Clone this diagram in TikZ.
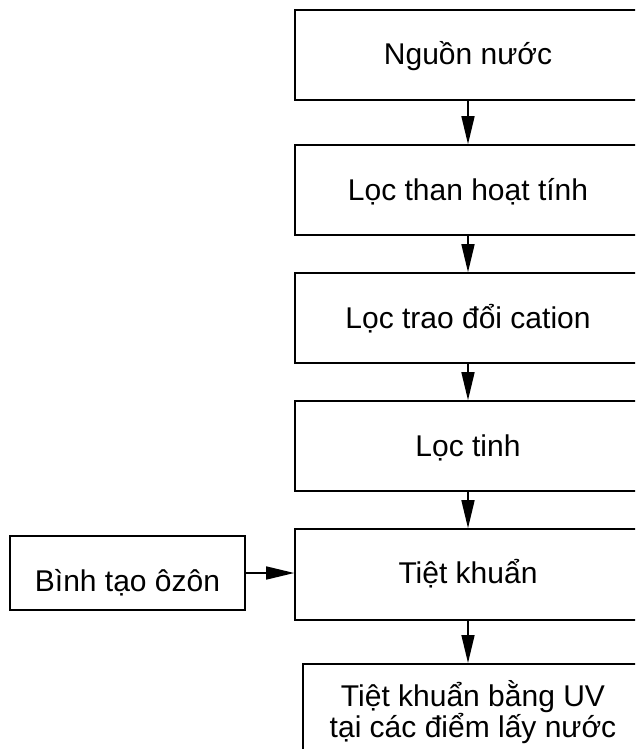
\documentclass[tikz,border=0pt]{standalone}
\usepackage{fontspec}
\setmainfont{Liberation Sans}
\usetikzlibrary{arrows.meta}
\begin{document}
\begin{tikzpicture}[x=1pt,y=-1pt,
  txt/.style={font=\fontsize{30}{31}\selectfont, inner sep=0pt},
  box/.style={txt, draw, line width=1.6pt, minimum width=346pt, minimum height=90pt,
    text height=20pt, text depth=0pt},
  arr/.style={line width=1.6pt, -{Triangle[length=28pt,width=13pt]}}]
\useasboundingbox (0,0) rectangle (635,749);
\clip (0,0) rectangle (635,749);
\node[box] (b1) at (468,55) {Nguồn nước};
\node[box] (b2) at (468,190) {Lọc than hoạt tính};
\node[box] (b3) at (468,318) {Lọc trao đổi cation};
\node[box] (b4) at (468,446) {Lọc tinh};
\node[box, minimum height=91pt, text height=17pt] (b5) at (468,574.5) {Tiệt khuẩn};
\node[draw, line width=1.6pt, minimum width=340pt, minimum height=140pt, inner sep=0pt, anchor=north] (b6) at (473,663) {};
\node[txt, anchor=base] (t6a) at (473,706) {Tiệt khuẩn bằng UV};
\node[txt, anchor=base] (t6b) at (473,737) {tại các điểm lấy nước};
\node[box, minimum width=235pt, minimum height=74pt, text height=36pt] (oz) at (127.5,573) {Bình tạo ôzôn};
\draw[arr] (b1) -- (b2);
\draw[arr] (b2) -- (b3);
\draw[arr] (b3) -- (b4);
\draw[arr] (b4) -- (b5);
\draw[arr] (b5.south) -- (b5.south |- b6.north);
\draw[arr] (oz.east) -- (oz.east -| b5.west);
\end{tikzpicture}
\end{document}
